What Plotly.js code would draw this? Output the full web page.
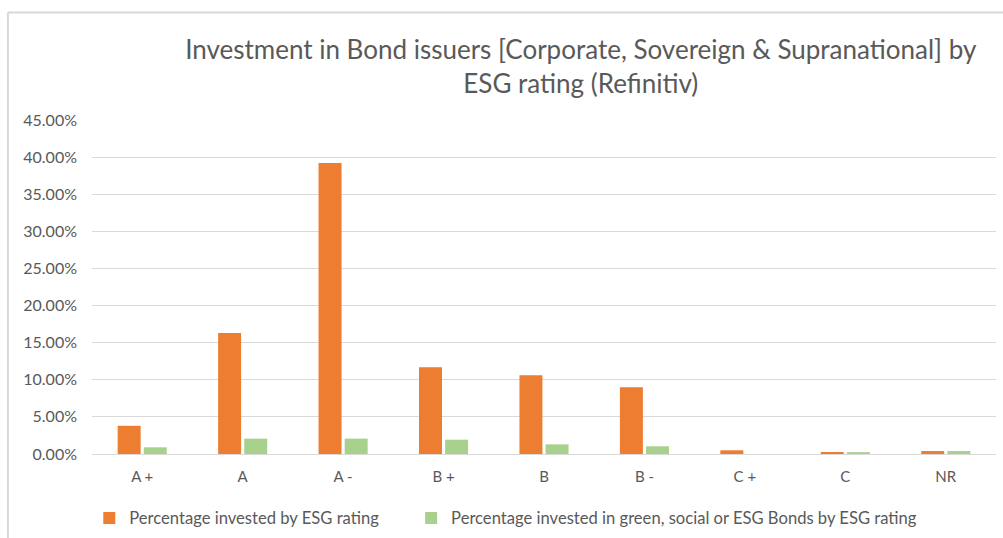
<!DOCTYPE html>
<html>
<head>
<meta charset="utf-8">
<script src="https://cdn.plot.ly/plotly-3.0.1.min.js"></script>
<style>html,body{margin:0;padding:0;background:#fff;}#chart{width:1003px;height:538px;}</style>
</head>
<body>
<div id="chart"></div>
<script>
var categories = ["A +", "A", "A -", "B +", "B", "B -", "C +", "C", "NR"];
var investedByRating = [0.038, 0.163, 0.392, 0.117, 0.106, 0.090, 0.005, 0.0027, 0.004];
var investedGreenBonds = [0.009, 0.0207, 0.0207, 0.0193, 0.013, 0.0104, 0.0, 0.0025, 0.004];
var seriesNames = ["Percentage invested by ESG rating", "Percentage invested in green, social or ESG Bonds by ESG rating"];
var yTickVals = [0, 0.05, 0.10, 0.15, 0.20, 0.25, 0.30, 0.35, 0.40, 0.45];

var FONT = "Lato, 'Open Sans', sans-serif";
var traces = [
  {type: "bar", name: seriesNames[0], x: categories, y: investedByRating, marker: {color: "#ed7d31"}, legend: "legend"},
  {type: "bar", name: seriesNames[1], x: categories, y: investedGreenBonds, marker: {color: "#a9d18e"}, legend: "legend2"}
];
var legendBase = {orientation: "h", xanchor: "left", y: 0.037, yanchor: "middle", yref: "container",
  font: {size: 16.6, color: "#595959", family: FONT}, itemwidth: 30, bgcolor: "rgba(0,0,0,0)"};
var layout = {
  width: 1003, height: 538,
  margin: {l: 92, r: 7, t: 120, b: 84},
  paper_bgcolor: "#ffffff", plot_bgcolor: "#ffffff",
  font: {family: FONT, color: "#595959", size: 16},
  barmode: "group", bargap: 0.48, bargroupgap: 0.12,
  title: {
    text: "Investment in Bond issuers [Corporate, Sovereign &amp; Supranational] by<br>ESG rating (Refinitiv)",
    font: {family: FONT, size: 26, color: "#595959"},
    x: 0.579, xanchor: "center", y: 0.890, yanchor: "middle", yref: "container"
  },
  xaxis: {
    type: "category", showgrid: false, showline: true, linecolor: "#d9d9d9", linewidth: 1,
    ticks: "", tickfont: {size: 15, color: "#595959"}, ticklabelstandoff: 9, fixedrange: true
  },
  yaxis: {
    range: [0, 0.45], tickvals: yTickVals, tickformat: ".2%", showgrid: true, gridcolor: "#d9d9d9",
    zeroline: false, showline: false, ticks: "", tickfont: {size: 16, color: "#595959"},
    ticklabelstandoff: 14, fixedrange: true
  },
  showlegend: true,
  legend: Object.assign({}, legendBase, {x: -0.003}),
  legend2: Object.assign({}, legendBase, {x: 0.353}),
  shapes: [
    {type: "line", xref: "paper", yref: "paper", x0: -0.093, x1: -0.093, y0: -0.27, y1: 1.322, line: {color: "#d9d9d9", width: 2}},
    {type: "line", xref: "paper", yref: "paper", x0: -0.093, x1: 1.01, y0: 1.322, y1: 1.322, line: {color: "#d9d9d9", width: 2}}
  ]
};
Plotly.newPlot("chart", traces, layout, {displayModeBar: false, staticPlot: true});
</script>
</body>
</html>
